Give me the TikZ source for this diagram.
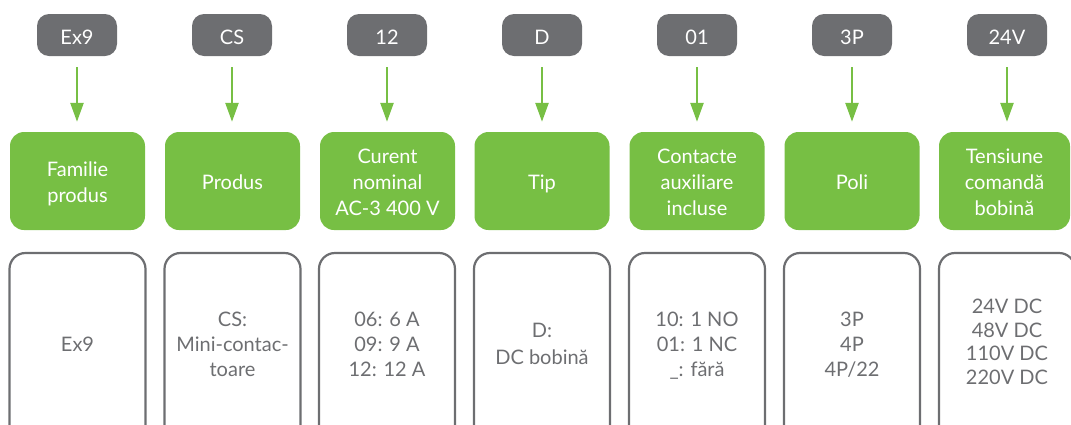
\documentclass[tikz,border=0pt]{standalone}
\usepackage{fontspec}
\setmainfont{Lato}
\usetikzlibrary{arrows.meta}
\definecolor{tabgray}{HTML}{6D6E71}
\definecolor{boxgreen}{HTML}{77BF44}
\definecolor{txtgray}{HTML}{6D6E71}
\tikzset{
  tab/.style={fill=tabgray, text=white, rounded corners=12pt, minimum width=80pt, minimum height=42pt, inner sep=0pt, text height=19.3pt, text depth=0pt, font=\fontsize{20}{25}\selectfont},
  cat/.style={fill=boxgreen, text=white, rounded corners=14pt, minimum width=135pt, minimum height=98pt, inner sep=0pt, align=center, text height=#1, text depth=0pt, font=\fontsize{20}{26}\selectfont},
  val/.style={draw=txtgray, line width=2.2pt, text=txtgray, rounded corners=16pt, minimum width=136pt, minimum height=192pt, inner sep=0pt, align=center, text height=#1, text depth=10pt, font=\fontsize{20}{25}\selectfont},
  link/.style={draw=boxgreen, line width=2.5pt, -{Triangle[width=13pt,length=19pt]}, shorten <=11pt, shorten >=10pt}
}
\begin{document}
\begin{tikzpicture}[x=1pt,y=-1pt]
\useasboundingbox (0,0) rectangle (1071,424);
\clip (0,0) rectangle (1071,424);
\node[tab] (t1) at (77,35) {Ex9};
\node[tab] (t2) at (232,35) {CS};
\node[tab] (t3) at (387,35) {12};
\node[tab] (t4) at (542,35) {D};
\node[tab] (t5) at (697,35) {01};
\node[tab] (t6) at (852,35) {3P};
\node[tab] (t7) at (1007,35) {24V};
\node[cat=43.7pt] (c1) at (77.5,181) {Familie\\produs};
\node[cat=17.7pt] (c2) at (232.5,181) {Produs};
\node[cat=69.7pt] (c3) at (387.5,181) {Curent\\nominal\\AC-3 400 V};
\node[cat=17.7pt] (c4) at (542,181) {Tip};
\node[cat=69.7pt] (c5) at (697,181) {Contacte\\auxiliare\\incluse};
\node[cat=17.7pt] (c6) at (852,181) {Poli};
\node[cat=69.7pt, minimum width=131pt] (c7) at (1004.5,181) {Tensiune\\comandă\\bobină};
\node[val=14.3pt] (v1) at (77.5,349) {Ex9};
\node[val=64.3pt] (v2) at (232.5,349) {CS:\\Mini-contac-\\toare};
\node[val=64.3pt] (v3) at (387,349) {06: 6 A\\09: 9 A\\12: 12 A};
\node[val=40.7pt, font=\fontsize{20}{26.4}\selectfont] (v4) at (542,349) {D:\\DC bobină};
\node[val=64.3pt] (v5) at (697,349) {10: 1 NO\\01: 1 NC\\\_: fără};
\node[val=64.3pt] (v6) at (852,349) {3P\\4P\\4P/22};
\node[val=84.8pt, text depth=14pt, font=\fontsize{20}{23.5}\selectfont] (v7) at (1007,349) {24V DC\\48V DC\\110V DC\\220V DC};
\foreach \i in {1,...,7} { \draw[link] (t\i.south) -- (t\i.south |- c\i.north); }
\end{tikzpicture}
\end{document}
